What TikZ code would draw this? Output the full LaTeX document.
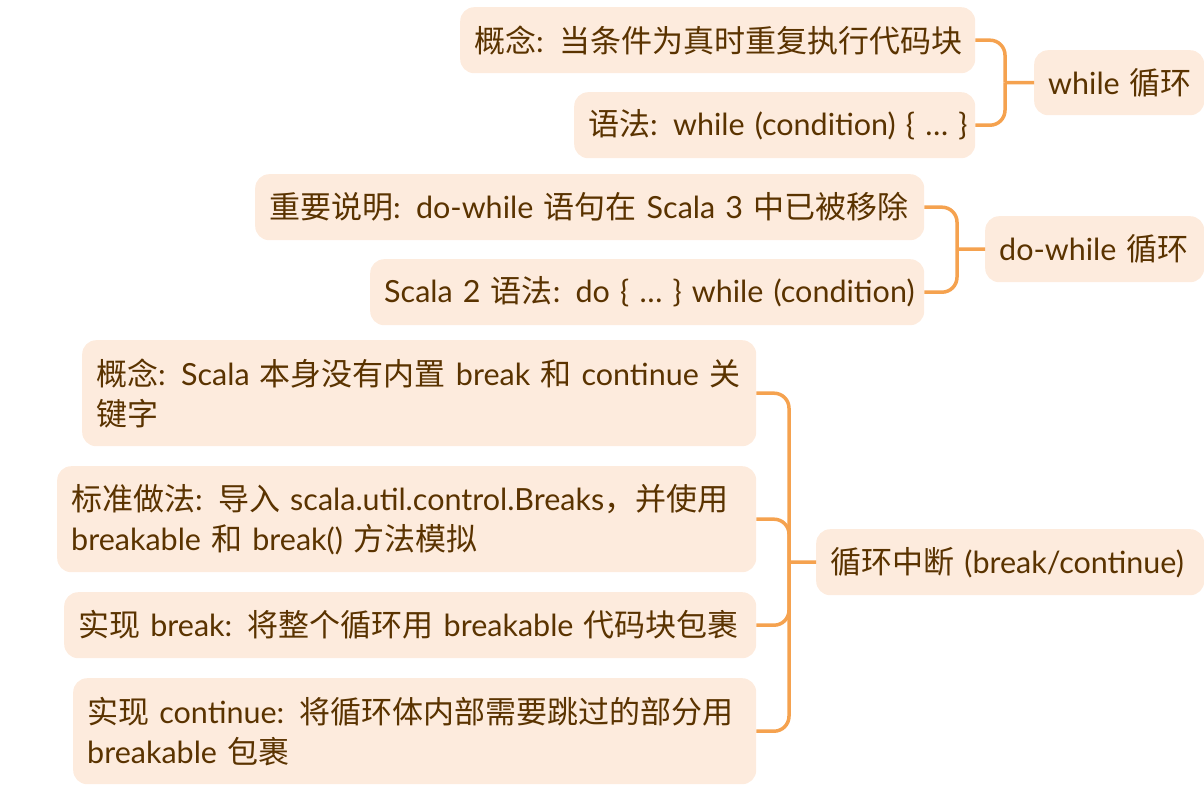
\documentclass[tikz,border=0pt]{standalone}
\usepackage{fontspec}
\setmainfont{Lato}
\newfontfamily\cjkfont{Noto Sans CJK SC}
\newcommand{\cj}[1]{{\cjkfont\fontsize{31}{40}\selectfont #1}}
\definecolor{linec}{HTML}{F5A24F}
\definecolor{boxc}{HTML}{FDEBDD}
\definecolor{textc}{HTML}{5A3300}
\tikzset{
  box/.style={fill=boxc, rounded corners=14pt, inner xsep=14pt, inner ysep=0pt,
    anchor=north west, align=left, text=textc,
    font=\fontsize{30.5}{40}\selectfont},
  conn/.style={draw=linec, line width=3.5pt, rounded corners=15pt},
  stem/.style={draw=linec, line width=3.5pt}
}
\newcommand{\mybox}[6]{\node[box, minimum width=#4pt, minimum height=#5pt, text width=#4pt-28pt] (#1) at (#2,-#3) {#6};}
\begin{document}
\begin{tikzpicture}[x=1pt,y=1pt]
\useasboundingbox (0,0) rectangle (1204,-792);
% group 1
\mybox{n1}{460}{7}{515}{66}{\mbox{\cj{概念}: \cj{当条件为真时重复执行代码块}}}
\mybox{n2}{574}{92}{401}{66}{\mbox{\cj{语法}: while (condition) \{ … \}}}
\mybox{p1}{1034}{50}{170}{65}{\mbox{while \cj{循环}}}
% group 2
\mybox{n3}{255}{174}{669}{66}{\mbox{\cj{重要说明}: do-while \cj{语句在} Scala 3 \cj{中已被移除}}}
\mybox{n4}{370}{259}{554}{66}{\mbox{Scala 2 \cj{语法}: do \{ … \} while (condition)}}
\mybox{p2}{985}{216}{219}{66}{\mbox{do-while \cj{循环}}}
% group 3
\mybox{n5}{82}{340}{674}{106}{\mbox{\cj{概念}: Scala \cj{本身没有内置} break \cj{和} continue \cj{关}}\\\mbox{\cj{键字}}}
\mybox{n6}{57}{466}{699}{106}{\mbox{\cj{标准做法}: \cj{导入} scala.util.control.Breaks\cj{，并使用}}\\\mbox{breakable \cj{和} break() \cj{方法模拟}}}
\mybox{n7}{64}{592}{692}{66}{\mbox{\cj{实现} break: \cj{将整个循环用} breakable \cj{代码块包裹}}}
\mybox{n8}{73}{678}{683}{106}{\mbox{\cj{实现} continue: \cj{将循环体内部需要跳过的部分用}}\\\mbox{breakable \cj{包裹}}}
\mybox{p3}{816}{529}{388}{66}{\mbox{\cj{循环中断} (break/continue)}}
% brackets
\coordinate (b1) at (1005,-82.5);
\coordinate (b2) at (957,-249);
\coordinate (b3) at (789,-562);
\foreach \c in {n1,n2} \draw[conn] (\c.east) -| (b1);
\draw[stem] (b1) -- (p1.west);
\foreach \c in {n3,n4} \draw[conn] (\c.east) -| (b2);
\draw[stem] (b2) -- (p2.west);
\foreach \c in {n5,n6,n7,n8} \draw[conn] (\c.east) -| (b3);
\draw[stem] (b3) -- (p3.west);
\end{tikzpicture}
\end{document}
